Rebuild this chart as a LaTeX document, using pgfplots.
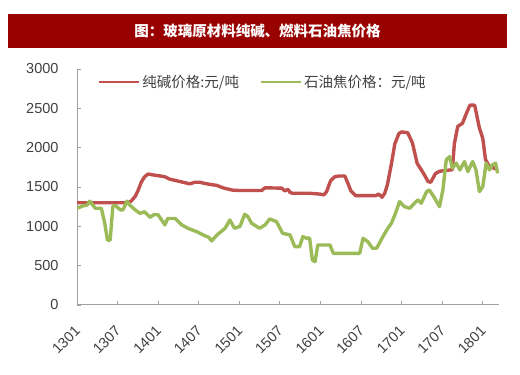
\documentclass[border=0pt]{standalone}
\usepackage{pgfplots}
\usepackage{pgfplotstable}
\pgfplotsset{compat=1.18}
\usepackage{fontspec}
\setmainfont{Liberation Sans}
\newfontfamily\cjk{Noto Sans CJK SC}
\definecolor{sodared}{HTML}{C0504D}
\definecolor{cokegreen}{HTML}{9BBB59}
\definecolor{banner}{HTML}{990000}
\definecolor{textgray}{HTML}{404040}
\definecolor{axisgray}{HTML}{A0A0A0}

\pgfplotstableread{
m v
0 1300
7.5 1300
8.0 1320
8.6 1380
9.0 1450
9.5 1560
10.0 1630
10.5 1665
11.5 1650
12.3 1640
13.0 1630
13.7 1600
15.2 1570
16.7 1540
17.4 1560
18.2 1560
18.9 1545
19.9 1530
20.7 1520
21.4 1495
22.0 1480
23.0 1460
24.1 1455
27.3 1455
27.8 1490
30.3 1485
30.7 1450
31.2 1470
31.5 1430
31.9 1420
34.4 1420
35.9 1410
36.5 1400
36.9 1440
37.5 1580
38.1 1630
38.8 1640
39.6 1640
40.0 1560
40.5 1450
41.2 1390
44.2 1390
44.6 1410
45.1 1370
45.5 1420
45.9 1530
46.5 1800
47.0 2050
47.6 2180
48.0 2200
48.9 2190
49.6 2060
50.3 1800
50.9 1720
51.4 1650
51.9 1570
52.3 1560
53.0 1670
53.6 1700
55.5 1720
55.8 2050
56.3 2270
57.0 2310
57.6 2440
58.1 2540
58.8 2540
59.5 2250
60.0 2120
60.4 1850
60.9 1770
61.4 1750
62.2 1720
}\soda

\pgfplotstableread{
m v
0 1230
0.9 1260
1.5 1270
1.9 1320
2.7 1230
3.6 1230
4.1 1040
4.5 825
4.9 825
5.3 1250
5.6 1270
6.4 1210
6.8 1210
7.4 1320
7.8 1270
8.6 1210
9.3 1165
10.0 1185
10.8 1115
11.4 1150
12.0 1145
12.6 1070
13.0 1018
13.4 1100
14.5 1100
15.5 1018
16.4 975
17.7 932
18.9 881
19.5 860
19.9 814
20.7 890
21.9 975
22.6 1081
23.3 975
24.1 1000
24.8 1154
25.3 1120
25.8 1040
27.0 975
27.8 1018
28.5 1094
29.5 1060
30.4 912
31.5 890
32.2 742
32.9 742
33.4 870
33.9 850
34.4 850
34.8 572
35.2 551
35.6 763
37.4 763
37.9 657
41.8 657
42.3 848
43.0 805
43.7 721
44.3 721
45.1 848
45.8 954
46.5 1040
47.0 1145
47.7 1314
48.4 1250
49.2 1230
49.9 1294
50.4 1336
50.9 1294
51.7 1441
52.1 1463
52.9 1357
53.6 1250
54.1 1463
54.6 1845
55.1 1887
55.5 1739
56.1 1803
56.6 1717
57.3 1824
57.8 1696
58.5 1824
59.0 1717
59.5 1441
60.0 1505
60.5 1803
61.0 1717
61.4 1780
61.9 1803
62.2 1675
}\coke

\begin{document}
\begin{tikzpicture}
\useasboundingbox (0pt,0pt) rectangle (520pt,375pt);
\fill[banner] (8pt,327pt) rectangle (507pt,361pt);
\node[text=white, font={\fontsize{14.5}{17}\selectfont\cjk\bfseries}] at (257.5pt,344pt) {图：玻璃原材料纯碱、燃料石油焦价格};
\begin{axis}[
  at={(77pt,70pt)}, anchor=south west,
  scale only axis, width=422pt, height=236pt,
  xmin=0, xmax=62.4, ymin=0, ymax=3000,
  axis x line*=bottom, axis y line*=left,
  axis line style={draw=axisgray, line width=1pt},
  xtick={0,6,...,60},
  xticklabels={1301,1307,1401,1407,1501,1507,1601,1607,1701,1707,1801},
  ytick={0,500,...,3000},
  tick align=inside, major tick length=4pt,
  tick style={draw=axisgray, line width=0.8pt},
  /pgf/number format/assume math mode=true,
  /pgf/number format/1000 sep={},
  ticklabel style={font={\fontsize{14.5}{17}\selectfont}, text=textgray},
  xticklabel style={xshift=3pt, yshift=-21pt, rotate=45, anchor=east},
  yticklabel style={xshift=-15pt},
  legend style={at={(0.043,0.945)}, anchor=west, draw=none, fill=none,
    font={\fontsize{14.5}{17}\selectfont\cjk}, text=textgray,
    nodes={inner sep=2pt},
    /tikz/every even column/.append style={column sep=19pt}},
  legend columns=2,
  legend image code/.code={\draw[#1, line width=2pt] (0pt,0pt) -- (40pt,0pt);},
]
\addplot[sodared, line width=3.4pt, line join=round] table[x=m,y=v]{\soda};
\addlegendentry{纯碱价格:元/吨}
\addplot[cokegreen, line width=3.4pt, line join=round] table[x=m,y=v]{\coke};
\addlegendentry{石油焦价格：元/吨}
\end{axis}
\end{tikzpicture}
\end{document}
